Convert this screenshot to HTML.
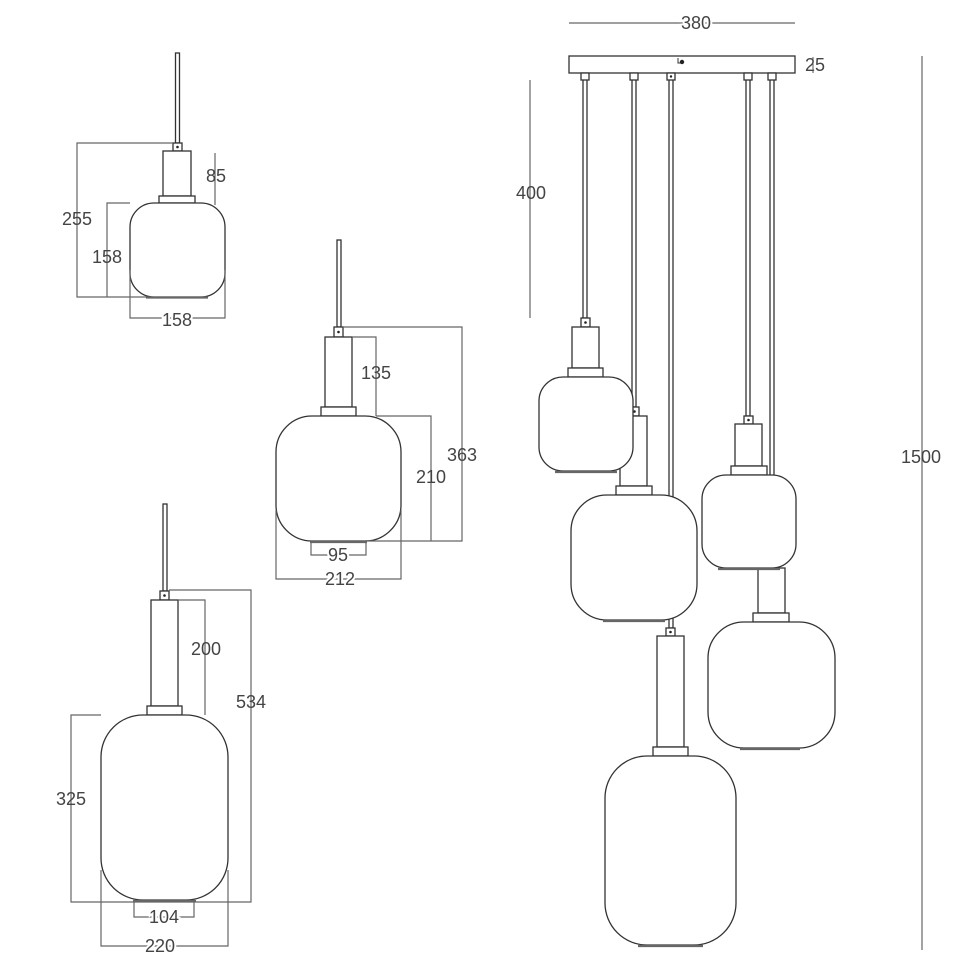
<!DOCTYPE html>
<html><head><meta charset="utf-8"><style>
html,body{margin:0;padding:0;background:#fff;}
svg{display:block;}
text{font-family:"Liberation Sans",sans-serif;font-size:18px;fill:#444;text-anchor:middle;dominant-baseline:central;}
.l{fill:#fff;stroke:#333;stroke-width:1.3;}
.d{fill:none;stroke:#666;stroke-width:1.2;}
.r{stroke:#666;stroke-width:2.2;}
.h{paint-order:stroke;stroke:#fff;stroke-width:4;}
</style></head><body>
<svg width="970" height="971" viewBox="0 0 970 971" xmlns="http://www.w3.org/2000/svg">

<!-- ===== Top-left lamp ===== -->
<rect class="l" x="175.5" y="53" width="4" height="90"/>
<rect class="l" x="173" y="143" width="9" height="8"/><circle cx="177.5" cy="147" r="1.3" fill="#222"/>
<rect class="l" x="163" y="151" width="28" height="45"/>
<rect class="l" x="159" y="196" width="36" height="7"/>
<rect class="l" x="130" y="203" width="95" height="94" rx="24"/>
<line class="r" x1="146" y1="297.5" x2="208" y2="297.5"/>
<path class="d" d="M173 143H77V297H146"/>
<path class="d" d="M130 203H107V297"/>
<line class="d" x1="215" y1="153" x2="215" y2="205"/>
<path class="d" d="M130 270V318H225V270"/>
<text x="77" y="219">255</text>
<text x="107" y="257">158</text>
<text x="216" y="176">85</text>
<text x="177" y="320" class="h">158</text>

<!-- ===== Middle lamp ===== -->
<rect class="l" x="337" y="240" width="4" height="87"/>
<rect class="l" x="334" y="327" width="9" height="10"/><circle cx="338.5" cy="332" r="1.3" fill="#222"/>
<rect class="l" x="325" y="337" width="27" height="70"/>
<rect class="l" x="321" y="407" width="35" height="9"/>
<rect class="l" x="276" y="416" width="125" height="125" rx="36"/>
<line class="r" x1="310" y1="542" x2="367" y2="542"/>
<path class="d" d="M343 327H462V541H367"/>
<path class="d" d="M376 416H431V541"/>
<path class="d" d="M352 337H376V416"/>
<path class="d" d="M311 543V555H366V543"/>
<path class="d" d="M276 510V579H401V510"/>
<text x="376" y="373">135</text>
<text x="431" y="477">210</text>
<text x="462" y="455">363</text>
<text x="338" y="555" class="h">95</text>
<text x="340" y="579" class="h">212</text>

<!-- ===== Bottom-left lamp ===== -->
<rect class="l" x="163" y="504" width="4" height="87"/>
<rect class="l" x="160" y="591" width="9" height="9"/><circle cx="164.5" cy="595.5" r="1.3" fill="#222"/>
<rect class="l" x="151" y="600" width="27" height="106"/>
<rect class="l" x="147" y="706" width="35" height="9"/>
<rect class="l" x="101" y="715" width="127" height="185" rx="42"/>
<line class="r" x1="133" y1="901" x2="196" y2="901"/>
<path class="d" d="M169 590H251V902H71V715H101"/>
<path class="d" d="M178 600H205V715"/>
<path class="d" d="M134 902V917H194V902"/>
<path class="d" d="M101 870V946H228V870"/>
<text x="206" y="649">200</text>
<text x="251" y="702">534</text>
<text x="71" y="799">325</text>
<text x="164" y="917" class="h">104</text>
<text x="160" y="946" class="h">220</text>

<!-- ===== Right cluster ===== -->
<line class="d" x1="569" y1="23" x2="795" y2="23"/>
<text x="696" y="23" class="h">380</text>
<line class="d" x1="530" y1="80" x2="530" y2="318"/>
<text x="531" y="193">400</text>
<line class="d" x1="922" y1="56" x2="922" y2="950"/>
<text x="921" y="457">1500</text>

<!-- rods -->
<rect class="l" x="583" y="73" width="4" height="245"/>
<rect class="l" x="632" y="73" width="4" height="334"/>
<rect class="l" x="669" y="73" width="4" height="555"/>
<rect class="l" x="746" y="73" width="4" height="343"/>
<rect class="l" x="770" y="73" width="4" height="500"/>

<!-- L3 -->
<rect class="l" x="666" y="628" width="9" height="8"/><circle cx="670.5" cy="632" r="1.3" fill="#222"/>
<rect class="l" x="657" y="636" width="27" height="111"/>
<rect class="l" x="653" y="747" width="35" height="9"/>
<rect class="l" x="605" y="756" width="131" height="189" rx="42"/>
<line class="r" x1="638" y1="946" x2="703" y2="946"/>

<!-- L2 -->
<rect class="l" x="630" y="407" width="9" height="9"/><circle cx="634.5" cy="411.5" r="1.3" fill="#222"/>
<rect class="l" x="620" y="416" width="27" height="70"/>
<rect class="l" x="616" y="486" width="36" height="9"/>
<rect class="l" x="571" y="495" width="126" height="125" rx="36"/>
<line class="r" x1="603" y1="621" x2="665" y2="621"/>

<!-- L1 -->
<rect class="l" x="581" y="318" width="9" height="9"/><circle cx="585.5" cy="322.5" r="1.3" fill="#222"/>
<rect class="l" x="572" y="327" width="27" height="41"/>
<rect class="l" x="568" y="368" width="35" height="9"/>
<rect class="l" x="539" y="377" width="94" height="94" rx="24"/>
<line class="r" x1="555" y1="472" x2="617" y2="472"/>

<!-- L5 -->
<rect class="l" x="758" y="568" width="27" height="45"/>
<rect class="l" x="753" y="613" width="36" height="9"/>
<rect class="l" x="708" y="622" width="127" height="126" rx="36"/>
<line class="r" x1="740" y1="749" x2="800" y2="749"/>

<!-- L4 -->
<rect class="l" x="744" y="416" width="9" height="8"/><circle cx="748.5" cy="420" r="1.3" fill="#222"/>
<rect class="l" x="735" y="424" width="27" height="42"/>
<rect class="l" x="731" y="466" width="36" height="9"/>
<rect class="l" x="702" y="475" width="94" height="93" rx="24"/>
<line class="r" x1="718" y1="569" x2="780" y2="569"/>

<!-- canopy -->
<rect class="l" x="569" y="56" width="226" height="17"/>
<rect class="l" x="581" y="73" width="8" height="7"/>
<rect class="l" x="630" y="73" width="8" height="7"/>
<rect class="l" x="667" y="73" width="8" height="7"/><circle cx="671" cy="76.5" r="1.2" fill="#222"/>
<rect class="l" x="744" y="73" width="8" height="7"/>
<rect class="l" x="768" y="73" width="8" height="7"/>
<path d="M678 58V63H683" fill="none" stroke="#333" stroke-width="1"/><circle cx="682" cy="62" r="2.2" fill="#222"/>
<text x="815" y="65">25</text>
<line x1="813" y1="57" x2="813" y2="73" stroke="#555" stroke-width="1"/>
</svg>
</body></html>
